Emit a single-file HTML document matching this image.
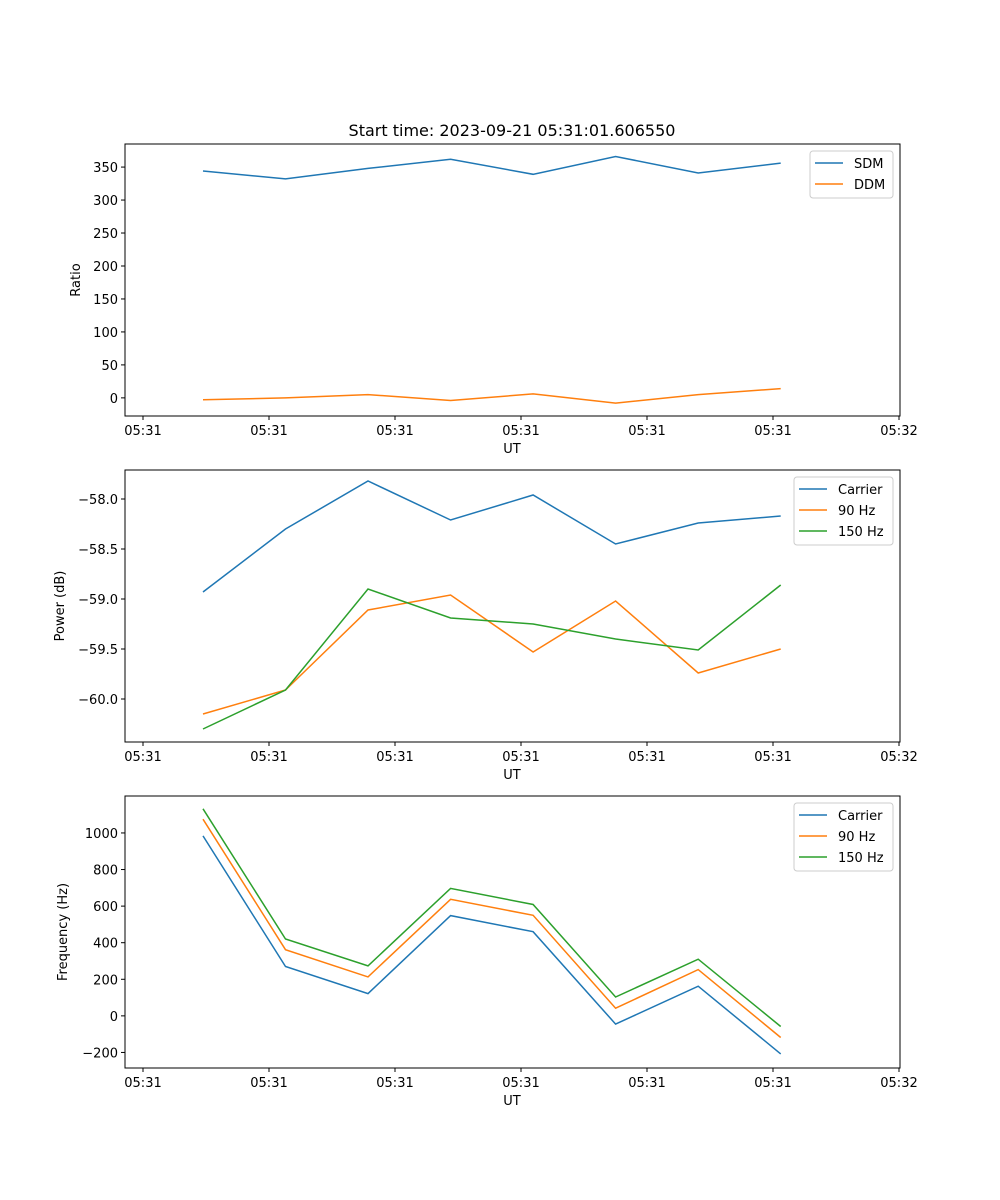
<!DOCTYPE html>
<html><head><meta charset="utf-8"><style>
body{margin:0;background:#fff}
svg{display:block;font-family:"DejaVu Sans","Liberation Sans",sans-serif}
</style></head><body>
<svg id="fig" width="1000" height="1200" viewBox="0 0 1000 1200" xmlns="http://www.w3.org/2000/svg">
<rect width="1000" height="1200" fill="#fff"/>
<text x="512" y="136" text-anchor="middle" font-size="16">Start time: 2023-09-21 05:31:01.606550</text>
</svg>
<script>
const times=[0.476,1.131,1.786,2.441,3.096,3.751,4.406,5.061];
const xTicks=[0,1,2,3,4,5,6];
const xTickLabels=["05:31","05:31","05:31","05:31","05:31","05:31","05:32"];
const sdm=[344,332,348,362,339,366,341,356];
const ddm=[-3,0,5,-4,6,-8,5,14];
const pCarrier=[-58.93,-58.30,-57.82,-58.21,-57.96,-58.45,-58.24,-58.17];
const p90=[-60.15,-59.91,-59.11,-58.96,-59.53,-59.02,-59.74,-59.50];
const p150=[-60.30,-59.91,-58.90,-59.19,-59.25,-59.40,-59.51,-58.86];
const fCarrier=[984,270,122,548,460,-45,162,-208];
const f90=[1075,362,213,637,550,42,253,-118];
const f150=[1132,420,273,697,609,103,310,-58];
const ticks1=[0,50,100,150,200,250,300,350];
const ticks2=[-60.0,-59.5,-59.0,-58.5,-58.0];
const ticks3=[-200,0,200,400,600,800,1000];
const C={blue:"#1f77b4",orange:"#ff7f0e",green:"#2ca02c"};
const svg=document.getElementById('fig');
const NS="http://www.w3.org/2000/svg";
function mk(tag,attrs,parent){const e=document.createElementNS(NS,tag);for(const k in attrs)e.setAttribute(k,attrs[k]);(parent||svg).appendChild(e);return e;}
const X0=125,X1=900;
function xs(t){return 143+126*t;}
function panel(name,top,bottom,ymin,ymax,yticks,fmt,ylabel,series,legend){
  const g=mk('g',{});
  
  
  const ys=v=>bottom-(v-ymin)/(ymax-ymin)*(bottom-top);
  series.forEach(s=>{
    const pts=s.vals.map((v,i)=>xs(times[i]).toFixed(1)+','+ys(v).toFixed(1)).join(' ');
    const l=mk('polyline',{points:pts,fill:'none',stroke:s.color,'stroke-width':1.5},g);
    
    
  });
  const fr=mk('rect',{x:X0,y:top,width:X1-X0,height:bottom-top,fill:'none',stroke:'#000','stroke-width':1},g);
  
  
  xTicks.forEach((t,i)=>{
    const x=xs(t);
    mk('line',{x1:x,x2:x,y1:bottom,y2:bottom+4,stroke:'#000'},g);
    const tx=mk('text',{x:x,y:bottom+19,'text-anchor':'middle','font-size':13},g);
    tx.textContent=xTickLabels[i];
    
    
  });
  yticks.forEach(v=>{
    const y=ys(v);
    mk('line',{x1:X0-4,x2:X0,y1:y,y2:y,stroke:'#000'},g);
    const tx=mk('text',{x:X0-7,y:y+5,'text-anchor':'end','font-size':13},g);
    tx.textContent=fmt(v);
    
    
  });
  const xl=mk('text',{x:512,y:bottom+37,'text-anchor':'middle','font-size':13},g);
  xl.textContent='UT';
  
  
  const yc=(top+bottom)/2;
  const yl=mk('text',{x:0,y:0,'text-anchor':'middle','font-size':13,transform:`translate(${legend.ylx},${yc}) rotate(-90)`},g);
  yl.textContent=ylabel;
  
  
  const lg=mk('g',{},g);
  
  
  mk('rect',{x:legend.x,y:top+7,width:893-legend.x,height:series.length*21+5,rx:3,fill:'#fff','fill-opacity':0.8,stroke:'#ccc'},lg);
  series.forEach((s,i)=>{
    const y=top+19+i*21;
    mk('line',{x1:legend.x+5,x2:legend.x+33,y1:y,y2:y,stroke:s.color,'stroke-width':1.5},lg);
    const t=mk('text',{x:legend.x+44,y:y+5,'font-size':13},lg);
    t.textContent=s.label;
    
    
  });
}
panel('ratio-panel',144,416,-27.5,385,ticks1,v=>String(v),'Ratio',
  [{id:'sdm',label:'SDM',vals:sdm,color:C.blue},{id:'ddm',label:'DDM',vals:ddm,color:C.orange}],{x:810,ylx:80});
panel('power-panel',470,742,-60.43,-57.71,ticks2,v=>'\u2212'+Math.abs(v).toFixed(1),'Power (dB)',
  [{id:'power-carrier',label:'Carrier',vals:pCarrier,color:C.blue},{id:'power-90hz',label:'90 Hz',vals:p90,color:C.orange},{id:'power-150hz',label:'150 Hz',vals:p150,color:C.green}],{x:794,ylx:64});
panel('frequency-panel',796,1068,-285,1202,ticks3,v=>v<0?'\u2212'+Math.abs(v):String(v),'Frequency (Hz)',
  [{id:'freq-carrier',label:'Carrier',vals:fCarrier,color:C.blue},{id:'freq-90hz',label:'90 Hz',vals:f90,color:C.orange},{id:'freq-150hz',label:'150 Hz',vals:f150,color:C.green}],{x:794,ylx:67});
</script>
</body></html>
